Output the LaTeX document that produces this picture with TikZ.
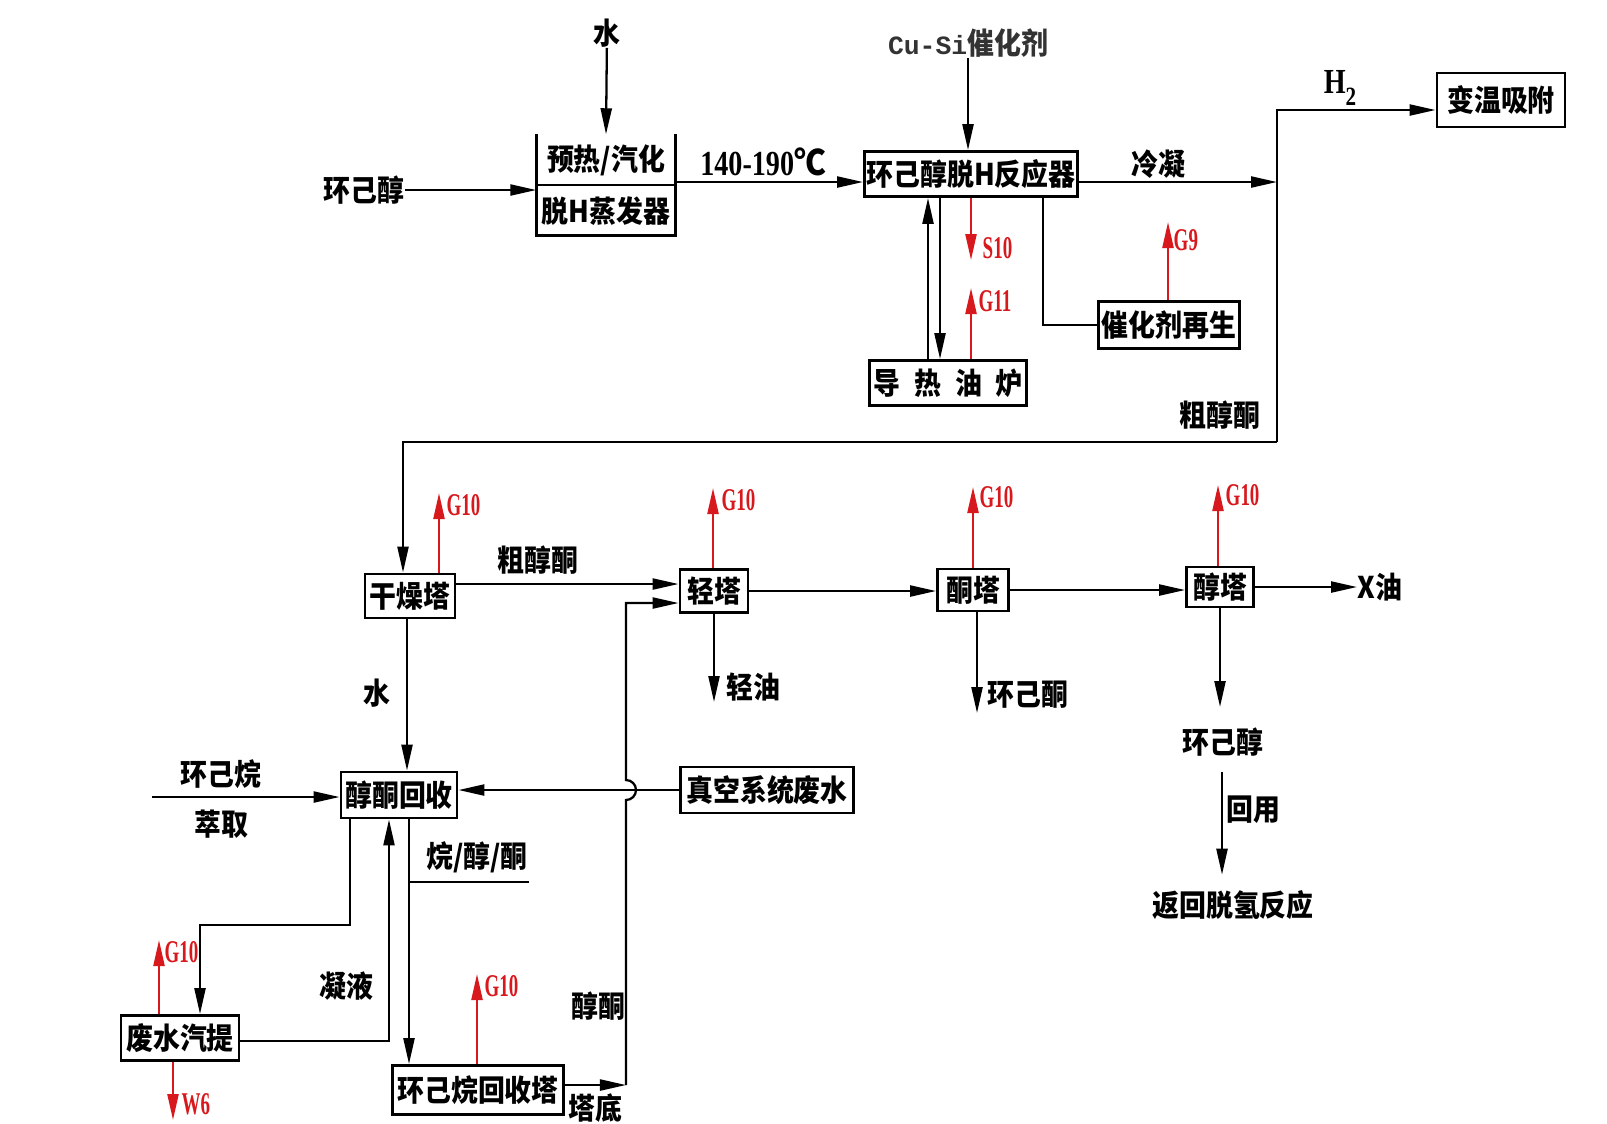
\documentclass[tikz,border=0pt]{standalone}
\usepackage{fontspec}
\setmainfont{Liberation Serif}
\newfontfamily\cjk{Noto Sans CJK SC}[FakeStretch=0.9]
\newfontfamily\gfont{Liberation Serif}[FakeStretch=0.6]
\newfontfamily\numf{Liberation Serif}[FakeStretch=0.8]
\newfontfamily\monof{Liberation Mono}
\usetikzlibrary{arrows.meta,calc}
\definecolor{emred}{RGB}{215,25,30}
\newcommand\bx{\cjk\bfseries\fontsize{8.5pt}{10pt}\selectfont}
\newcommand\gl{\gfont\bfseries\fontsize{9pt}{10pt}\selectfont}
\begin{document}
\begin{tikzpicture}[x=0.01cm,y=-0.01cm,
  box/.style={draw, line width=0.8pt, inner sep=0.5pt, font=\bx},
  lbl/.style={inner sep=0pt, font=\bx},
  glab/.style={inner sep=0pt, text=emred, font=\gl, anchor=west},
  flow/.style={line width=0.65pt, -{Triangle[length=2.6mm,width=1.1mm]}},
  plain/.style={line width=0.65pt},
  emis/.style={line width=0.65pt, draw=emred, -{Triangle[length=2.6mm,width=1.1mm]}}]
\path[use as bounding box, fill=white] (0,0) rectangle (1607,1123);

% ---------- top row ----------
\node[lbl] (water) at (607,33) {水};
\node[lbl, minimum width=1.38cm, minimum height=1.0cm, align=center] (evap) at (606,185) {预热/汽化\\[4.8pt]脱H蒸发器};
\draw[line width=0.8pt] (evap.north west) -- (evap.south west) -- (evap.south east) -- (evap.north east);
\draw[line width=0.8pt] (evap.west) -- (evap.east);
\node[lbl] (in1) at (364,190) {环己醇};
\node[lbl, font=\numf\bfseries\fontsize{10pt}{12pt}\selectfont] (temp) at (763,162) {140-190{\cjk ℃}};
\node[box, minimum width=2.13cm, minimum height=0.45cm] (reactor) at (971,174) {环己醇脱H反应器};
\node[lbl, text=black!80] (cusi) at (968,43) {{\monof\bfseries\fontsize{7.5pt}{9pt}\selectfont Cu-Si}催化剂};
\node[lbl] (cond) at (1158,164) {冷凝};
\coordinate (J) at (1277,182);
\coordinate (vt) at (1277,110);
\coordinate (vb) at (1277,442);
\node[lbl, font=\numf\bfseries\fontsize{10pt}{12pt}\selectfont] (h2) at (1340,88) {H\raisebox{-0.7ex}{\fontsize{7.5pt}{8pt}\selectfont 2}};
\node[box, minimum width=1.28cm, minimum height=0.54cm] (tsa) at (1501,100) {变温吸附};
\node[box, minimum width=1.57cm, minimum height=0.45cm] (furn) at (948,383) {导\hspace{0.14cm}热\hspace{0.14cm}油\hspace{0.14cm}炉};
\node[box, minimum width=1.41cm, minimum height=0.47cm] (catreg) at (1169,325) {催化剂再生};
\node[lbl] (crude1) at (1220,415) {粗醇酮};

\draw[flow] (water) -- (evap.north);
\draw[flow] (in1.east) -- (in1.east -| evap.west);
\draw[flow] (evap.east |- 0,182) -- (reactor.west |- 0,182);
\draw[flow] (cusi.south) -- (cusi.south |- reactor.north);
\draw[flow] (reactor.east |- J) -- (J);
\draw[flow] (vb) -- (vt) -- (tsa.west |- vt);
\draw[flow] (furn.north -| 928,0) -- (reactor.south -| 928,0);
\draw[flow] (reactor.south -| 940,0) -- (furn.north -| 940,0);
\draw[plain] (reactor.south -| 1043,0) |- (catreg.west);
\draw[emis] (reactor.south -| 971,0) -- (971,260);
\node[glab] (s10) at (982,248) {S10};
\draw[emis] (furn.north -| 971,0) -- (971,288);
\node[glab] (g11) at (978,301) {G11};
\draw[emis] (catreg.north -| 1168,0) -- (1168,222);
\node[glab] (g9) at (1173,240) {G9};

% ---------- middle row ----------
\node[box, minimum width=0.9cm, minimum height=0.44cm] (dry) at (410,596) {干燥塔};
\node[lbl] (crude2) at (538,560) {粗醇酮};
\node[box, minimum width=0.68cm, minimum height=0.43cm] (light) at (714,591) {轻塔};
\node[box, minimum width=0.71cm, minimum height=0.42cm] (keto) at (973,590) {酮塔};
\node[box, minimum width=0.67cm, minimum height=0.40cm] (alco) at (1220,587) {醇塔};
\node[lbl] (xoil) at (1380,587) {X油};
\node[lbl] (lo) at (753,687) {轻油};
\node[lbl] (kone) at (1028,695) {环己酮};
\node[lbl] (alc2) at (1223,742) {环己醇};
\node[lbl] (reuse) at (1253,810) {回用};
\node[lbl] (ret) at (1233,905) {返回脱氢反应};

\draw[flow] (vb) -| (dry.north -| 403,0);
\draw[flow] (dry.east |- 0,584) -- (light.west |- 0,584);
\draw[flow] (light.east) -- (light.east -| keto.west);
\draw[flow] (keto.east) -- (keto.east -| alco.west);
\draw[flow] (alco.east) -- (xoil.west);
\draw[flow] (light.south) -- (714,702);
\draw[flow] (keto.south -| 977,0) -- (977,713);
\draw[flow] (alco.south) -- (1220,707);
\draw[flow, shorten <=0.15cm, shorten >=0.15cm] (alc2.south -| 1222,0) -- (ret.north -| 1222,0);
\draw[emis] (dry.north -| 439,0) -- (439,493);
\node[glab] (g10a) at (446,505) {G10};
\draw[emis] (light.north -| 713,0) -- (713,488);
\node[glab] (g10b) at (721,500) {G10};
\draw[emis] (keto.north -| 973,0) -- (973,487);
\node[glab] (g10c) at (979,497) {G10};
\draw[emis] (alco.north -| 1218,0) -- (1218,485);
\node[glab] (g10d) at (1225,495) {G10};

% ---------- bottom ----------
\node[lbl] (wlab) at (377,693) {水};
\node[box, minimum width=1.16cm, minimum height=0.46cm] (rec) at (399,795) {醇酮回收};
\node[box, minimum width=1.73cm, minimum height=0.46cm] (vac) at (767,790) {真空系统废水};
\node[lbl] (cyh) at (221,774) {环己烷};
\node[lbl] (ext) at (221,824) {萃取};
\coordinate (cyin) at (152,797);
\node[lbl] (arj) at (477,857) {烷/醇/酮};
\node[box, minimum width=1.18cm, minimum height=0.45cm] (ww) at (180,1038) {废水汽提};
\node[lbl] (cond2) at (346,986) {凝液};
\node[box, minimum width=1.71cm, minimum height=0.49cm] (chr) at (478,1090) {环己烷回收塔};
\node[lbl] (bot) at (595,1108) {塔底};
\node[lbl] (cc) at (598,1006) {醇酮};
\coordinate (c2) at (626,1085);

\draw[flow] (dry.south -| 407,0) -- (rec.north -| 407,0);
\draw[flow] (cyin) -- (rec.west |- cyin);
\draw[flow] (vac.west) -- (rec.east |- vac.west);
\draw[flow] (rec.south -| 350,0) |- (200,925) -- (ww.north -| 200,0);
\draw[flow] (ww.east |- 0,1041) -| (rec.south -| 389,0);
\draw[flow] (rec.south -| 409,0) -- (chr.north -| 409,0);
\draw[plain] (409,882) -- (529,882);
\draw[flow] (chr.east |- c2) -- (c2);
\draw[flow] (c2) -- (626,800) arc[start angle=-90, end angle=90, radius=0.1cm] -- (626,603) -- (light.west |- 0,603);
\draw[emis] (ww.north -| 159,0) -- (159,940);
\node[glab] (g10e) at (164,952) {G10};
\draw[emis] (ww.south -| 173,0) -- (173,1120);
\node[glab] (w6) at (181,1104) {W6};
\draw[emis] (chr.north -| 477,0) -- (477,974);
\node[glab] (g10f) at (484,986) {G10};
\end{tikzpicture}
\end{document}
